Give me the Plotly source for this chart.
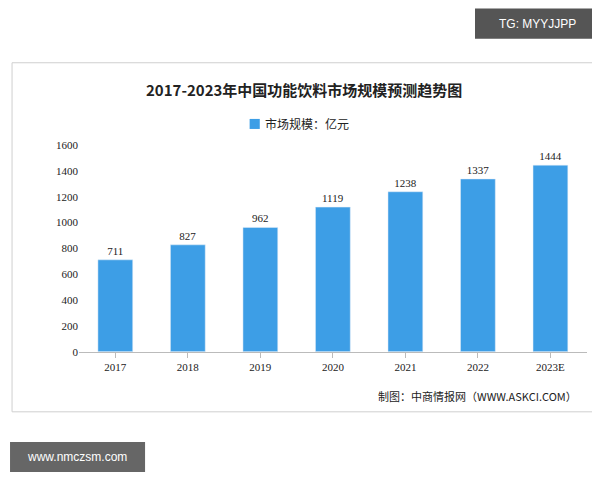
import plotly.graph_objects as go

years = ["2017", "2018", "2019", "2020", "2021", "2022", "2023E"]
values = [711, 827, 962, 1119, 1238, 1337, 1444]

W, H = 600, 480
def px(x): return (x - 8) / 0.985 / W
def py(y): return 1 - ((y - 13.4) / 0.972) / H

fig = go.Figure()
fig.add_trace(go.Bar(x=years, y=values, text=[str(v) for v in values], textposition="outside",
                     textfont=dict(size=11, color="#222", family="Liberation Serif"),
                     marker=dict(color="#3d9ee6"), width=0.48, name="市场规模：亿元", cliponaxis=False))

def ann(x, y, text, size, family, color="#222", xanchor="center"):
    return dict(xref="paper", yref="paper", x=px(x), y=py(y), xanchor=xanchor, yanchor="middle",
                text=text, showarrow=False, font=dict(size=size, family=family, color=color))

fig.update_layout(
    width=W, height=H, margin=dict(l=0, r=0, t=0, b=0),
    paper_bgcolor="white", plot_bgcolor="white", showlegend=False,
    xaxis=dict(domain=[px(78), px(578)], showline=True, linecolor="#bbb", ticks="outside",
               tickcolor="#bbb", tickfont=dict(size=11, family="Liberation Serif", color="#222")),
    yaxis=dict(domain=[py(350), py(144)], range=[0, 1600], dtick=200, showgrid=False,
               showline=False, tickfont=dict(size=11, family="Liberation Serif", color="#222")),
    shapes=[
        dict(type="rect", xref="paper", yref="paper", x0=px(12), x1=px(588), y0=py(410), y1=py(62),
             line=dict(color="#cfcfcf", width=1), layer="below"),
        dict(type="rect", xref="paper", yref="paper", x0=px(246), x1=px(256), y0=py(128), y1=py(118),
             fillcolor="#3d9ee6", line=dict(width=0), layer="below"),
        dict(type="rect", xref="paper", yref="paper", x0=px(468), x1=px(592), y0=py(38), y1=py(8),
             fillcolor="#555", line=dict(width=0), layer="below"),
        dict(type="rect", xref="paper", yref="paper", x0=px(10), x1=px(143), y0=py(470), y1=py(440),
             fillcolor="#666", line=dict(width=0), layer="below"),
    ],
    annotations=[
        ann(300, 89, "<b>2017-2023年中国功能饮料市场规模预测趋势图</b>", 15, "Noto Sans CJK SC"),
        ann(259, 123, "市场规模：亿元", 12, "Noto Sans CJK SC", xanchor="left"),
        ann(370, 394, "制图：中商情报网（WWW.ASKCI.COM）", 11, "Noto Sans CJK SC", xanchor="left"),
        ann(530, 23, "TG: MYYJJPP", 12, "Liberation Sans", color="white"),
        ann(76, 455, "www.nmczsm.com", 12, "Liberation Sans", color="white"),
    ],
)
fig.write_html("out.html")
